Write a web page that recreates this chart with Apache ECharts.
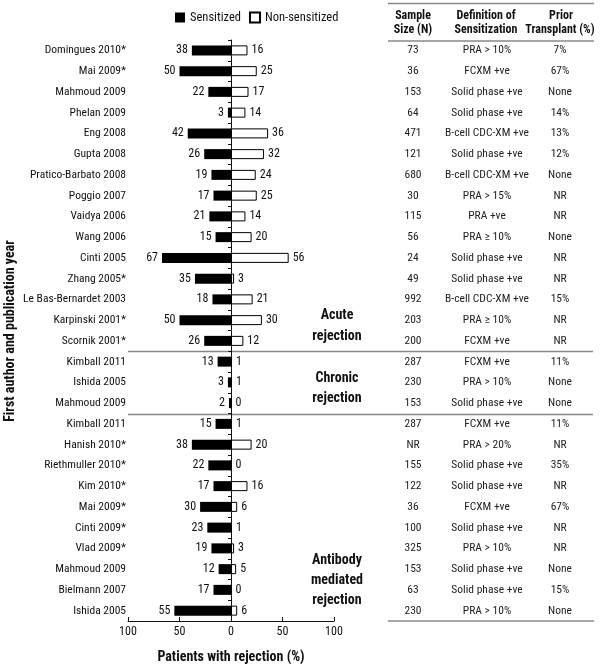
<!DOCTYPE html>
<html>
<head>
<meta charset="utf-8">
<script src="https://cdn.jsdelivr.net/npm/echarts@6/dist/echarts.min.js"></script>
<style>html,body{margin:0;padding:0;background:#fff;}#c{width:600px;height:667px;}</style>
</head>
<body>
<div id="c"></div>
<script>
var studies = ['Domingues 2010*','Mai 2009*','Mahmoud 2009','Phelan 2009','Eng 2008','Gupta 2008','Pratico-Barbato 2008','Poggio 2007','Vaidya 2006','Wang 2006','Cinti 2005','Zhang 2005*','Le Bas-Bernardet 2003','Karpinski 2001*','Scornik 2001*','Kimball 2011','Ishida 2005','Mahmoud 2009','Kimball 2011','Hanish 2010*','Riethmuller 2010*','Kim 2010*','Mai 2009*','Cinti 2009*','Vlad 2009*','Mahmoud 2009','Bielmann 2007','Ishida 2005'];
var sensitized = [38,50,22,3,42,26,19,17,21,15,67,35,18,50,26,13,3,2,15,38,22,17,30,23,19,12,17,55];
var nonSensitized = [16,25,17,14,36,32,24,25,14,20,56,3,21,30,12,1,1,0,1,20,0,16,6,1,3,5,0,6];
var sampleSize = ['73','36','153','64','471','121','680','30','115','56','24','49','992','203','200','287','230','153','287','NR','155','122','36','100','325','153','63','230'];
var definition = ['PRA > 10%','FCXM +ve','Solid phase +ve','Solid phase +ve','B-cell CDC-XM +ve','Solid phase +ve','B-cell CDC-XM +ve','PRA > 15%','PRA +ve','PRA \u2265 10%','Solid phase +ve','Solid phase +ve','B-cell CDC-XM +ve','PRA \u2265 10%','FCXM +ve','FCXM +ve','PRA > 10%','Solid phase +ve','FCXM +ve','PRA > 20%','Solid phase +ve','Solid phase +ve','FCXM +ve','Solid phase +ve','PRA > 10%','Solid phase +ve','Solid phase +ve','PRA > 10%'];
var priorTransplant = ['7%','67%','None','14%','13%','12%','None','NR','NR','None','NR','NR','15%','NR','NR','11%','None','None','11%','NR','35%','NR','67%','NR','NR','None','15%','None'];
var xTicks = [-100, -50, 0, 50, 100];
var groupEnds = [14, 17]; // last row index of Acute, Chronic groups

var FF = "'Roboto Condensed', 'Liberation Sans', Arial, sans-serif";
var FS = 11.5;
var chart = echarts.init(document.getElementById('c'), null, {renderer: 'canvas'});

function tableAxis(vals, margin) {
  return {
    type: 'category', data: vals, inverse: true, position: 'right',
    axisLine: {show: false, onZero: false}, axisTick: {show: false}, splitLine: {show: false},
    axisLabel: {show: true, align: 'center', margin: margin, color: '#222', fontFamily: FF, fontSize: FS, interval: 0}
  };
}

var option = {
  animation: false,
  backgroundColor: '#fff',
  grid: {left: 128, right: 266, top: 40, bottom: 46, outerBoundsMode: 'none', containLabel: false},
  legend: {
    data: ['Sensitized', 'Non-sensitized'], left: 170, top: 6, icon: 'rect',
    itemWidth: 10, itemHeight: 10, itemGap: 8,
    textStyle: {fontFamily: FF, fontSize: 12.5, color: '#111'}
  },
  xAxis: {
    type: 'value', min: xTicks[0], max: xTicks[xTicks.length-1], interval: 50,
    axisLine: {show: true, lineStyle: {color: '#111', width: 1}},
    axisTick: {show: true, inside: true, length: 4, lineStyle: {color: '#111'}},
    splitLine: {show: false},
    axisLabel: {formatter: function(v){return Math.abs(v);}, color: '#111', fontFamily: FF, fontSize: 12, margin: 5}
  },
  yAxis: [
    {
      type: 'category', data: studies, inverse: true, position: 'left',
      axisLine: {show: false, onZero: false}, axisTick: {show: false},
      axisLabel: {color: '#111', fontFamily: FF, fontSize: FS, margin: 2, interval: 0}
    },
    {
      type: 'category', data: studies, inverse: true, position: 'left',
      axisLine: {show: true, onZero: true, lineStyle: {color: '#111', width: 1}},
      axisTick: {show: true, length: 3, lineStyle: {color: '#111'}},
      axisLabel: {show: false}
    },
    tableAxis(sampleSize, 79),
    tableAxis(definition, 153),
    tableAxis(priorTransplant, 226)
  ],
  series: [
    {
      name: 'Sensitized', type: 'bar', barWidth: 10, barGap: '-100%',
      data: sensitized.map(function(v){return -v;}),
      itemStyle: {color: '#000', borderColor: '#000', borderWidth: 0},
      label: {show: true, position: 'left', distance: 4, color: '#111', fontFamily: FF, fontSize: 12,
        formatter: function(p){return Math.abs(p.value);}}
    },
    {
      name: 'Non-sensitized', type: 'bar', barWidth: 10, barGap: '-100%',
      data: nonSensitized,
      itemStyle: {color: '#fff', borderColor: '#000', borderWidth: 1},
      label: {show: true, position: 'right', distance: 4, color: '#111', fontFamily: FF, fontSize: 12}
    }
  ]
};
chart.setOption(option);

function rowY(i) { return chart.convertToPixel({yAxisIndex: 0}, i); }
var gfx = [];
var bold = function(txt, x, y, size) {
  return {type: 'text', x: x, y: y, style: {text: txt, fill: '#111', font: 'bold ' + size + 'px ' + FF, textAlign: 'center', textVerticalAlign: 'middle'}, silent: true};
};
// table lines
gfx.push({type: 'line', shape: {x1: 388, y1: 3.5, x2: 594, y2: 3.5}, style: {stroke: '#888', lineWidth: 1.5}});
gfx.push({type: 'line', shape: {x1: 388, y1: 41, x2: 594, y2: 41}, style: {stroke: '#888', lineWidth: 1.5}});
var yBottom = rowY(studies.length - 1) + (rowY(1) - rowY(0)) / 2;
gfx.push({type: 'line', shape: {x1: 388, y1: yBottom, x2: 594, y2: yBottom}, style: {stroke: '#888', lineWidth: 1.5}});
groupEnds.forEach(function(i){
  var y = Math.round((rowY(i) + rowY(i + 1)) / 2) + 0.5;
  gfx.push({type: 'line', shape: {x1: 128, y1: y, x2: 593, y2: y}, style: {stroke: '#888', lineWidth: 1.5}});
});
// headers
gfx.push(bold('Sample', 413, 16, 12));
gfx.push(bold('Size (N)', 413, 30, 12));
gfx.push(bold('Definition of', 486, 16, 12));
gfx.push(bold('Sensitization', 486, 30, 12));
gfx.push(bold('Prior', 561, 16, 12));
gfx.push(bold('Transplant (%)', 560, 30, 12));
// group labels
gfx.push(bold('Acute', 337, 315, 14));
gfx.push(bold('rejection', 337, 336, 14));
gfx.push(bold('Chronic', 337, 378, 14));
gfx.push(bold('rejection', 337, 398, 14));
gfx.push(bold('Antibody', 337, 560, 14));
gfx.push(bold('mediated', 337, 580, 14));
gfx.push(bold('rejection', 337, 600, 14));
// axis titles
gfx.push(bold('Patients with rejection (%)', 231, 657, 14));
var yt = bold('First author and publication year', 0, 0, 14);
yt.x = 10; yt.y = 331; yt.rotation = Math.PI / 2;
gfx.push(yt);
chart.setOption({graphic: gfx});
</script>
</body>
</html>
